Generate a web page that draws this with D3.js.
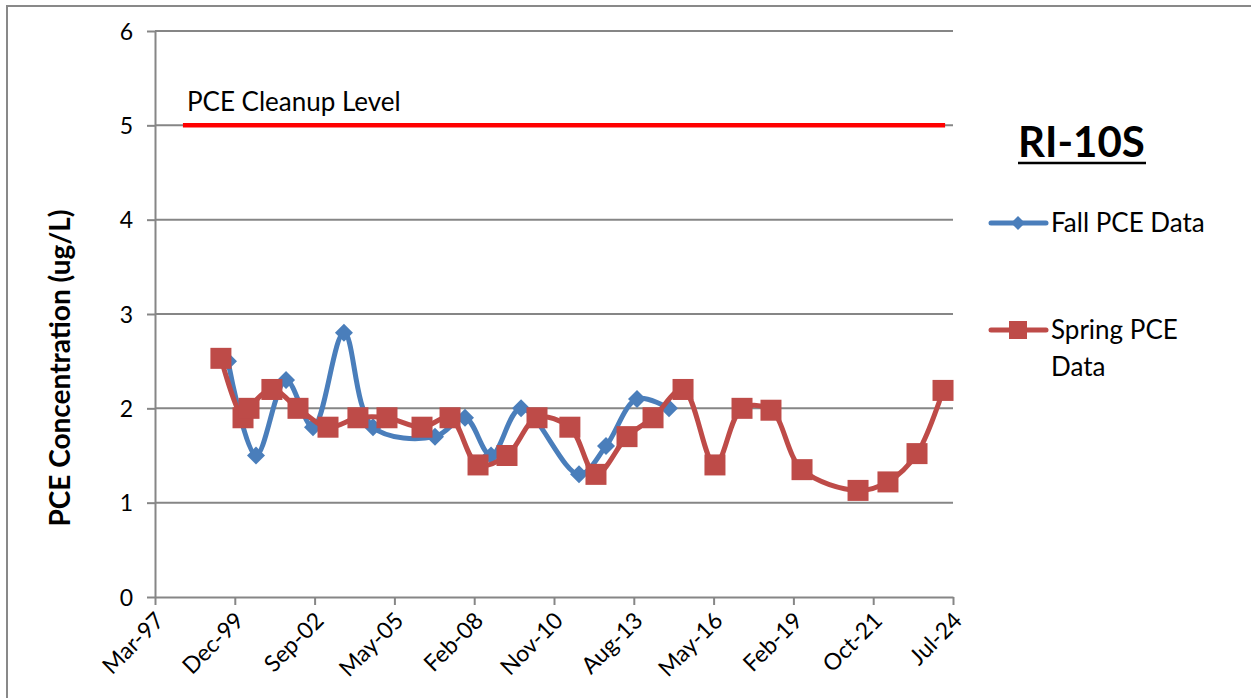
<!DOCTYPE html>
<html>
<head>
<meta charset="utf-8">
<script src="https://cdn.jsdelivr.net/npm/d3@7"></script>
<style>
  body { margin: 0; background: #fff; }
  svg { display: block; font-family: Lato, "Open Sans", sans-serif; }
  .axis path, .axis line { stroke: #868686; stroke-width: 2; }
  .axis text { fill: #000; font-size: 23px; font-family: Lato, "Open Sans", sans-serif; }
</style>
</head>
<body>
<div id="chart"></div>
<script>
/* sample dates and PCE results (ug/L) */
var fallDates = ["1999-09-12", "2000-08-28", "2001-09-08", "2002-08-12", "2003-09-04", "2004-09-02",
                 "2006-10-19", "2007-10-30", "2008-09-20", "2009-10-01", "2011-09-27", "2012-08-31",
                 "2013-09-23", "2014-10-29"];
var fallValues = [2.5, 1.5, 2.3, 1.8, 2.8, 1.8, 1.7, 1.9, 1.5, 2.0, 1.3, 1.6, 2.1, 2.0];

var springDates = ["1999-06-15", "2000-03-18", "2000-06-01", "2001-03-15", "2002-02-05", "2003-02-16",
                   "2004-02-26", "2005-02-24", "2006-05-09", "2007-04-25", "2008-04-10", "2009-04-08",
                   "2010-04-19", "2011-06-05", "2012-04-27", "2013-05-21", "2014-04-12", "2015-04-23",
                   "2016-05-27", "2017-05-01", "2018-04-29", "2019-05-23", "2021-04-24", "2022-05-04",
                   "2023-05-03", "2024-03-24"];
var springValues = [2.53, 1.9, 2.0, 2.2, 2.0, 1.8, 1.9, 1.9, 1.8, 1.9, 1.4, 1.5, 1.9, 1.8, 1.3, 1.7,
                    1.9, 2.2, 1.4, 2.0, 1.98, 1.35, 1.13, 1.22, 1.52, 2.19];

var cleanupLevel = 5;
var cleanupDates = ["1998-02-24", "2024-04-19"];

var tickDates = ["1997-03-11", "1999-12-06", "2002-09-01", "2005-05-28", "2008-02-22", "2010-11-18",
                 "2013-08-14", "2016-05-10", "2019-02-04", "2021-10-31", "2024-07-27"];
var tickLabels = ["Mar-97", "Dec-99", "Sep-02", "May-05", "Feb-08", "Nov-10",
                  "Aug-13", "May-16", "Feb-19", "Oct-21", "Jul-24"];
var yTicks = [0, 1, 2, 3, 4, 5, 6];

var W = 1251, H = 698;
var margin = {left: 155, top: 31, right: 298, bottom: 101},
    width = W - margin.left - margin.right,
    height = H - margin.top - margin.bottom;

var parse = d3.utcParse("%Y-%m-%d");
var fall = fallDates.map(function(d, i) { return {t: parse(d), y: fallValues[i]}; });
var spring = springDates.map(function(d, i) { return {t: parse(d), y: springValues[i]}; });
var ticks = tickDates.map(parse);

var x = d3.scaleUtc().domain([ticks[0], ticks[ticks.length - 1]]).range([0, width]),
    y = d3.scaleLinear().domain([0, 6]).range([height, 0]);

var svg = d3.select("#chart").append("svg")
    .attr("width", W)
    .attr("height", H);

/* chart frame (clipped by the window on the right and bottom) */
svg.append("path")
    .attr("d", "M7," + H + "V6H" + W)
    .attr("fill", "none")
    .attr("stroke", "#898989")
    .attr("stroke-width", 2);

var g = svg.append("g")
    .attr("transform", "translate(" + margin.left + "," + margin.top + ")");

/* horizontal gridlines */
g.append("g").selectAll("line")
    .data(yTicks.slice(1))
  .enter().append("line")
    .attr("x1", 0).attr("x2", width)
    .attr("y1", function(d) { return y(d); })
    .attr("y2", function(d) { return y(d); })
    .attr("stroke", "#868686")
    .attr("stroke-width", 2);

var yAxis = d3.axisLeft(y).tickValues(yTicks).tickSize(8).tickPadding(14).tickSizeOuter(0)
    .tickFormat(d3.format("d"));
var gY = g.append("g").attr("class", "axis axis--y").call(yAxis);
gY.selectAll("text").attr("dy", "0.36em");

var xAxis = d3.axisBottom(x).tickValues(ticks).tickSize(8).tickSizeOuter(0)
    .tickFormat(function(d, i) { return tickLabels[i]; });
var gX = g.append("g")
    .attr("class", "axis axis--x")
    .attr("transform", "translate(0," + height + ")")
    .call(xAxis);
gX.selectAll("text")
    .attr("text-anchor", "end")
    .attr("dy", null)
    .attr("y", 0)
    .attr("transform", "translate(10,25) rotate(-45)");

/* cleanup level */
g.append("line")
    .attr("x1", x(parse(cleanupDates[0]))).attr("x2", x(parse(cleanupDates[1])))
    .attr("y1", y(cleanupLevel)).attr("y2", y(cleanupLevel))
    .attr("stroke", "#ff0000")
    .attr("stroke-width", 4.5);

g.append("text")
    .attr("x", x(parse(cleanupDates[0])) + 4)
    .attr("y", y(cleanupLevel) - 14)
    .attr("font-size", 26)
    .text("PCE Cleanup Level");

var blue = "#4a7ebb", red = "#be4b48";

var line = d3.line()
    .curve(d3.curveCatmullRom)
    .x(function(d) { return x(d.t); })
    .y(function(d) { return y(d.y); });

g.append("path").datum(fall)
    .attr("fill", "none")
    .attr("stroke", blue)
    .attr("stroke-width", 5)
    .attr("stroke-linejoin", "round")
    .attr("d", line);

g.append("g").selectAll("path")
    .data(fall)
  .enter().append("path")
    .attr("transform", function(d) { return "translate(" + x(d.t) + "," + y(d.y) + ")"; })
    .attr("d", "M0,-9L9,0L0,9L-9,0Z")
    .attr("fill", blue);

g.append("path").datum(spring)
    .attr("fill", "none")
    .attr("stroke", red)
    .attr("stroke-width", 5)
    .attr("stroke-linejoin", "round")
    .attr("d", line);

g.append("g").selectAll("rect")
    .data(spring)
  .enter().append("rect")
    .attr("x", function(d) { return x(d.t) - 10.5; })
    .attr("y", function(d) { return y(d.y) - 10.5; })
    .attr("width", 21)
    .attr("height", 21)
    .attr("fill", red);

/* y label */
svg.append("text")
    .attr("transform", "translate(70,368) rotate(-90)")
    .attr("text-anchor", "middle")
    .attr("font-size", 28)
    .attr("font-weight", "bold")
    .text("PCE Concentration (ug/L)");

/* title */
svg.append("text")
    .attr("x", 1018)
    .attr("y", 157)
    .attr("font-size", 42)
    .attr("font-weight", "bold")
    .text("RI-10S");
svg.append("line")
    .attr("x1", 1018).attr("x2", 1146)
    .attr("y1", 163).attr("y2", 163)
    .attr("stroke", "#000")
    .attr("stroke-width", 2.5);

/* legend */
var lg = svg.append("g").attr("font-size", 26);
lg.append("line").attr("x1", 991).attr("x2", 1046).attr("y1", 223).attr("y2", 223)
    .attr("stroke", blue).attr("stroke-width", 5).attr("stroke-linecap", "round");
lg.append("path").attr("transform", "translate(1018,223)").attr("d", "M0,-7L7,0L0,7L-7,0Z").attr("fill", blue);
lg.append("text").attr("x", 1051).attr("y", 232).text("Fall PCE Data");

lg.append("line").attr("x1", 991).attr("x2", 1046).attr("y1", 330).attr("y2", 330)
    .attr("stroke", red).attr("stroke-width", 5).attr("stroke-linecap", "round");
lg.append("rect").attr("x", 1009).attr("y", 321).attr("width", 18).attr("height", 18).attr("fill", red);
lg.append("text").attr("x", 1051).attr("y", 339).text("Spring PCE");
lg.append("text").attr("x", 1051).attr("y", 376).text("Data");
</script>
</body>
</html>
